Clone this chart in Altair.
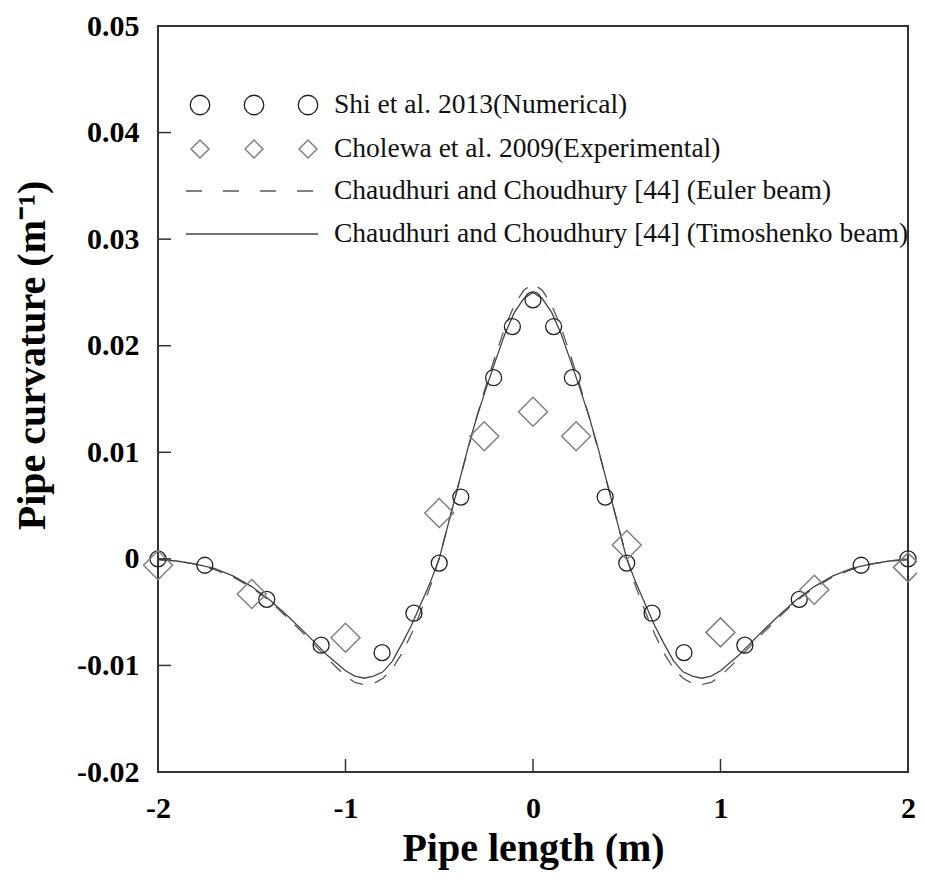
import altair as alt
import pandas as pd

# ---------------- data ----------------
# Shi et al. 2013 (Numerical) - circles
SHI_X = [-2.0, -1.75, -1.42, -1.13, -0.805, -0.635, -0.5, -0.385, -0.21, -0.11, 0.0,
         0.11, 0.21, 0.385, 0.5, 0.635, 0.805, 1.13, 1.42, 1.75, 2.0]
SHI_Y = [0.0, -0.0006, -0.0038, -0.0081, -0.0088, -0.0051, -0.0004, 0.0058, 0.0170, 0.0218, 0.0243,
         0.0218, 0.0170, 0.0058, -0.0004, -0.0051, -0.0088, -0.0081, -0.0038, -0.0006, 0.0]

# Cholewa et al. 2009 (Experimental) - diamonds
CHO_X = [-2.0, -1.5, -1.0, -0.5, -0.26, 0.0, 0.23, 0.5, 1.0, 1.5, 2.0]
CHO_Y = [-0.0006, -0.0033, -0.0074, 0.0043, 0.0115, 0.0138, 0.0115, 0.0013, -0.0069, -0.0029, -0.0008]

# Chaudhuri and Choudhury [44] curves
LINE_X = [-2.0, -1.9, -1.8, -1.7, -1.6, -1.5, -1.4, -1.3, -1.2, -1.1, -1.0,
          -0.95, -0.9, -0.85, -0.8, -0.75, -0.7, -0.65, -0.6, -0.55, -0.5,
          -0.45, -0.4, -0.35, -0.3, -0.25, -0.2, -0.15, -0.1, -0.05, 0.0,
          0.05, 0.1, 0.15, 0.2, 0.25, 0.3, 0.35, 0.4, 0.45, 0.5,
          0.55, 0.6, 0.65, 0.7, 0.75, 0.8, 0.85, 0.9, 0.95, 1.0,
          1.1, 1.2, 1.3, 1.4, 1.5, 1.6, 1.7, 1.8, 1.9, 2.0]
TIMO_Y = [-0.0001, -0.0002, -0.0005, -0.0009, -0.0016, -0.0026, -0.0039, -0.0055, -0.0072, -0.0090, -0.0105,
          -0.0110, -0.0112, -0.0110, -0.0106, -0.0096, -0.0080, -0.0063, -0.0043, -0.0023, 0.0000,
          0.0034, 0.0068, 0.0102, 0.0133, 0.0160, 0.0186, 0.0211, 0.0231, 0.0244, 0.0250,
          0.0244, 0.0231, 0.0211, 0.0186, 0.0160, 0.0133, 0.0102, 0.0068, 0.0034, 0.0000,
          -0.0023, -0.0043, -0.0063, -0.0080, -0.0096, -0.0106, -0.0110, -0.0112, -0.0110, -0.0105,
          -0.0090, -0.0072, -0.0055, -0.0039, -0.0026, -0.0016, -0.0009, -0.0005, -0.0002, -0.0001]
EULER_Y = [0.0000, -0.0002, -0.0005, -0.0010, -0.0017, -0.0027, -0.0040, -0.0057, -0.0074, -0.0093, -0.0110,
           -0.0116, -0.0118, -0.0117, -0.0112, -0.0103, -0.0089, -0.0071, -0.0050, -0.0027, 0.0001,
           0.0034, 0.0068, 0.0101, 0.0133, 0.0163, 0.0191, 0.0217, 0.0238, 0.0252, 0.0258,
           0.0252, 0.0238, 0.0217, 0.0191, 0.0163, 0.0133, 0.0101, 0.0068, 0.0034, 0.0001,
           -0.0027, -0.0050, -0.0071, -0.0089, -0.0103, -0.0112, -0.0117, -0.0118, -0.0116, -0.0110,
           -0.0093, -0.0074, -0.0057, -0.0040, -0.0027, -0.0017, -0.0010, -0.0005, -0.0002, 0.0000]

X_TICKS = [-2, -1, 0, 1, 2]
Y_TICKS = [-0.02, -0.01, 0.0, 0.01, 0.02, 0.03, 0.04, 0.05]

LEGEND_LABELS = ["Shi et al. 2013(Numerical)",
                 "Cholewa et al. 2009(Experimental)",
                 "Chaudhuri and Choudhury [44] (Euler beam)",
                 "Chaudhuri and Choudhury [44] (Timoshenko beam)"]

# ---------------- layout constants (pixels, plot-area coordinates) ----------------
W, H = 750, 746
TICK_LEN = 13
LEG_ROW_Y = [79, 123, 165, 208]
LEG_SYM_X = [42, 96, 150]
LEG_LINE_X0, LEG_LINE_X1 = 28, 158
LEG_TEXT_X = 176

FONT = "Liberation Serif"

# ---------------- tables ----------------
shi = pd.DataFrame({"x": SHI_X, "y": SHI_Y})
cho = pd.DataFrame({"x": CHO_X, "y": CHO_Y})
timo = pd.DataFrame({"x": LINE_X, "y": TIMO_Y})
euler = pd.DataFrame({"x": LINE_X, "y": EULER_Y})
xt = pd.DataFrame({"x": X_TICKS})
yt = pd.DataFrame({"y": Y_TICKS})

xscale = alt.Scale(domain=[-2, 2], nice=False, zero=False)
yscale = alt.Scale(domain=[-0.02, 0.05], nice=False, zero=False)

X_AX = alt.Axis(values=X_TICKS, title="Pipe length (m)",
                labelExpr="datum.value < 0 ? '-' + format(-datum.value, 'd') : format(datum.value, 'd')",
                labelFlush=False, labelPadding=21, titleY=88, titleBaseline="alphabetic",
                titleFontSize=40)
Y_AX = alt.Axis(values=Y_TICKS, title="Pipe curvature (m\u207b\u00b9)",
                labelExpr="datum.value == 0 ? '0' : (datum.value < 0 ? '-' + format(-datum.value, '.2f') : format(datum.value, '.2f'))",
                labelFlush=False, labelPadding=19, titleAngle=270, titleX=-126, titleY=329,
                titleAlign="center", titleBaseline="middle", titleFontSize=40)

X = alt.X("x:Q", scale=xscale, axis=X_AX)
Y = alt.Y("y:Q", scale=yscale, axis=Y_AX)

euler_line = alt.Chart(euler).mark_line(color="#555555", strokeWidth=1.3, strokeDash=[14, 12]).encode(x=X, y=Y)
timo_line = alt.Chart(timo).mark_line(color="#444444", strokeWidth=1.3).encode(x=X, y=Y)
shi_pts = alt.Chart(shi).mark_point(shape="circle", size=256, filled=False, color="#222222",
                                    strokeWidth=1.3, opacity=1).encode(x=X, y=Y)
cho_pts = alt.Chart(cho).mark_point(shape="diamond", size=841, filled=False, color="#808080",
                                    strokeWidth=1.5, opacity=1).encode(x=X, y=Y)

y_ticks = alt.Chart(yt).mark_rule(color="#333333", strokeWidth=1.5).encode(
    y=Y, x=alt.value(0), x2=alt.value(TICK_LEN))
x_ticks = alt.Chart(xt).mark_rule(color="#333333", strokeWidth=1.5).encode(
    x=X, y=alt.value(H), y2=alt.value(H - TICK_LEN))

# ---------------- legend ----------------
leg_circ = pd.DataFrame({"lx": LEG_SYM_X, "ly": [LEG_ROW_Y[0]] * 3})
leg_diam = pd.DataFrame({"lx": LEG_SYM_X, "ly": [LEG_ROW_Y[1]] * 3})
leg_text = pd.DataFrame({"label": LEGEND_LABELS, "ly": LEG_ROW_Y, "lx": [LEG_TEXT_X] * 4})
one = pd.DataFrame({"k": [0]})

LX = alt.X("lx:Q", scale=None, axis=None)
LY = alt.Y("ly:Q", scale=None, axis=None)

lg_c = alt.Chart(leg_circ).mark_point(shape="circle", size=380, filled=False, color="#222222",
                                      strokeWidth=1.3, opacity=1).encode(x=LX, y=LY)
lg_d = alt.Chart(leg_diam).mark_point(shape="diamond", size=324, filled=False, color="#808080",
                                      strokeWidth=1.5, opacity=1).encode(x=LX, y=LY)
lg_dash = alt.Chart(one).mark_rule(color="#555555", strokeWidth=1.3, strokeDash=[16, 21]).encode(
    x=alt.value(LEG_LINE_X0), x2=alt.value(LEG_LINE_X1), y=alt.value(LEG_ROW_Y[2]))
lg_solid = alt.Chart(one).mark_rule(color="#444444", strokeWidth=1.3).encode(
    x=alt.value(LEG_LINE_X0), x2=alt.value(LEG_LINE_X1 + 2), y=alt.value(LEG_ROW_Y[3]))
lg_t = alt.Chart(leg_text).mark_text(align="left", baseline="middle", font=FONT, fontSize=27.5,
                                     color="#111111").encode(x=LX, y=LY, text="label:N")

chart = alt.layer(
    euler_line, timo_line, shi_pts, cho_pts, y_ticks, x_ticks,
    lg_c, lg_d, lg_dash, lg_solid, lg_t
).resolve_scale(x="shared", y="shared").properties(
    width=W, height=H,
    padding={"left": 150, "top": 18, "right": 9, "bottom": 100},
    autosize=alt.AutoSizeParams(type="none"),
    background="white",
).configure_view(
    stroke="#333333", strokeWidth=2
).configure_axis(
    domain=False, ticks=False, tickSize=0, grid=False,
    labelFont=FONT, labelFontWeight="bold", labelFontSize=30, labelColor="#000000",
    titleFont=FONT, titleFontWeight="bold", titleColor="#000000",
)

chart.save("out.html", embed_options={"renderer": "svg", "actions": False})
